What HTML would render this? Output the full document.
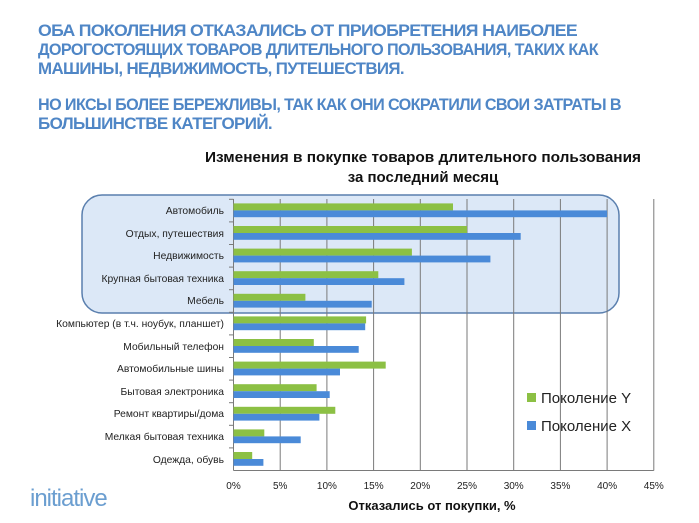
<!DOCTYPE html>
<html><head><meta charset="utf-8"><style>
html,body{margin:0;padding:0;background:#fff;}
svg{display:block;}
</style></head><body>
<svg width="699" height="523" viewBox="0 0 699 523" xmlns="http://www.w3.org/2000/svg" font-family="'Liberation Sans', sans-serif">
<g fill="#4f86c6" font-weight="bold" font-size="16.2" letter-spacing="-0.6">
<text x="38" y="36" textLength="539" lengthAdjust="spacingAndGlyphs">ОБА ПОКОЛЕНИЯ ОТКАЗАЛИСЬ ОТ ПРИОБРЕТЕНИЯ НАИБОЛЕЕ</text>
<text x="38" y="55" textLength="560" lengthAdjust="spacingAndGlyphs">ДОРОГОСТОЯЩИХ ТОВАРОВ ДЛИТЕЛЬНОГО ПОЛЬЗОВАНИЯ, ТАКИХ КАК</text>
<text x="38" y="74" textLength="366" lengthAdjust="spacingAndGlyphs">МАШИНЫ, НЕДВИЖИМОСТЬ, ПУТЕШЕСТВИЯ.</text>
<text x="38" y="110" textLength="583" lengthAdjust="spacingAndGlyphs">НО ИКСЫ БОЛЕЕ БЕРЕЖЛИВЫ, ТАК КАК ОНИ СОКРАТИЛИ СВОИ ЗАТРАТЫ В</text>
<text x="38" y="129" textLength="234" lengthAdjust="spacingAndGlyphs">БОЛЬШИНСТВЕ КАТЕГОРИЙ.</text>
</g>
<g font-weight="bold" font-size="15" fill="#111" text-anchor="middle">
<text x="423" y="162" textLength="436" lengthAdjust="spacingAndGlyphs">Изменения в покупке товаров длительного пользования</text>
<text x="423" y="182">за последний месяц</text>
</g>
<rect x="82" y="195" width="537" height="118" rx="20" ry="20" fill="#dce8f7" stroke="#5a7fae" stroke-width="1.5"/>
<g stroke="#7a7a7a" stroke-width="1">
<line x1="280.2" y1="199" x2="280.2" y2="470.5"/>
<line x1="326.9" y1="199" x2="326.9" y2="470.5"/>
<line x1="373.6" y1="199" x2="373.6" y2="470.5"/>
<line x1="420.3" y1="199" x2="420.3" y2="470.5"/>
<line x1="467" y1="199" x2="467" y2="470.5"/>
<line x1="513.7" y1="199" x2="513.7" y2="470.5"/>
<line x1="560.4" y1="199" x2="560.4" y2="470.5"/>
<line x1="607.1" y1="199" x2="607.1" y2="470.5"/>
<line x1="653.8" y1="199" x2="653.8" y2="470.5"/>
<line x1="233.5" y1="199" x2="233.5" y2="470.5"/>
<line x1="233.5" y1="470.5" x2="653.8" y2="470.5"/>
</g>
<g font-size="10" fill="#222" text-anchor="middle">
<text x="233.5" y="489">0%</text><text x="280.2" y="489">5%</text><text x="326.9" y="489">10%</text><text x="373.6" y="489">15%</text><text x="420.3" y="489">20%</text><text x="467" y="489">25%</text><text x="513.7" y="489">30%</text><text x="560.4" y="489">35%</text><text x="607.1" y="489">40%</text><text x="653.8" y="489">45%</text>
</g>
<text x="432" y="510" font-size="13" font-weight="bold" text-anchor="middle" fill="#111">Отказались от покупки, %</text>
<rect x="527" y="393" width="9" height="9" fill="#8cc044"/>
<text x="541" y="403" font-size="15" fill="#222">Поколение Y</text>
<rect x="527" y="421" width="9" height="9" fill="#4a8ad8"/>
<text x="541" y="431" font-size="15" fill="#222">Поколение X</text>
<text x="30" y="506" font-size="24" fill="#6b9ed0" letter-spacing="-1">initiative</text>
<g>
<rect x="233.5" y="203.4" width="219.5" height="7" fill="#8cc044"/><rect x="233.5" y="210.4" width="373.6" height="6.8" fill="#4a8ad8"/>
<rect x="233.5" y="226.0" width="233.5" height="7" fill="#8cc044"/><rect x="233.5" y="233.0" width="287.2" height="6.8" fill="#4a8ad8"/>
<rect x="233.5" y="248.6" width="178.4" height="7" fill="#8cc044"/><rect x="233.5" y="255.6" width="256.9" height="6.8" fill="#4a8ad8"/>
<rect x="233.5" y="271.2" width="144.8" height="7" fill="#8cc044"/><rect x="233.5" y="278.2" width="170.9" height="6.8" fill="#4a8ad8"/>
<rect x="233.5" y="293.8" width="71.9" height="7" fill="#8cc044"/><rect x="233.5" y="300.8" width="138.2" height="6.8" fill="#4a8ad8"/>
<rect x="233.5" y="316.4" width="132.6" height="7" fill="#8cc044"/><rect x="233.5" y="323.4" width="131.7" height="6.8" fill="#4a8ad8"/>
<rect x="233.5" y="339.0" width="80.3" height="7" fill="#8cc044"/><rect x="233.5" y="346.0" width="125.2" height="6.8" fill="#4a8ad8"/>
<rect x="233.5" y="361.6" width="152.2" height="7" fill="#8cc044"/><rect x="233.5" y="368.6" width="106.5" height="6.8" fill="#4a8ad8"/>
<rect x="233.5" y="384.2" width="83.1" height="7" fill="#8cc044"/><rect x="233.5" y="391.2" width="96.2" height="6.8" fill="#4a8ad8"/>
<rect x="233.5" y="406.8" width="101.8" height="7" fill="#8cc044"/><rect x="233.5" y="413.8" width="85.9" height="6.8" fill="#4a8ad8"/>
<rect x="233.5" y="429.4" width="30.8" height="7" fill="#8cc044"/><rect x="233.5" y="436.4" width="67.2" height="6.8" fill="#4a8ad8"/>
<rect x="233.5" y="452.0" width="18.7" height="7" fill="#8cc044"/><rect x="233.5" y="459.0" width="29.9" height="6.8" fill="#4a8ad8"/>
</g>
<g stroke="#7a7a7a"><line x1="229" y1="199.3" x2="233.5" y2="199.3"/><line x1="229" y1="221.9" x2="233.5" y2="221.9"/><line x1="229" y1="244.5" x2="233.5" y2="244.5"/><line x1="229" y1="267.1" x2="233.5" y2="267.1"/><line x1="229" y1="289.7" x2="233.5" y2="289.7"/><line x1="229" y1="312.3" x2="233.5" y2="312.3"/><line x1="229" y1="334.9" x2="233.5" y2="334.9"/><line x1="229" y1="357.5" x2="233.5" y2="357.5"/><line x1="229" y1="380.1" x2="233.5" y2="380.1"/><line x1="229" y1="402.7" x2="233.5" y2="402.7"/><line x1="229" y1="425.3" x2="233.5" y2="425.3"/><line x1="229" y1="447.9" x2="233.5" y2="447.9"/></g>
<g font-size="10.3" fill="#222" text-anchor="end">
<text x="224" y="214">Автомобиль</text>
<text x="224" y="237">Отдых, путешествия</text>
<text x="224" y="259">Недвижимость</text>
<text x="224" y="282">Крупная бытовая техника</text>
<text x="224" y="304">Мебель</text>
<text x="224" y="327">Компьютер (в т.ч. ноубук, планшет)</text>
<text x="224" y="350">Мобильный телефон</text>
<text x="224" y="372">Автомобильные шины</text>
<text x="224" y="395">Бытовая электроника</text>
<text x="224" y="417">Ремонт квартиры/дома</text>
<text x="224" y="440">Мелкая бытовая техника</text>
<text x="224" y="463">Одежда, обувь</text>
</g>
</svg>
</body></html>
